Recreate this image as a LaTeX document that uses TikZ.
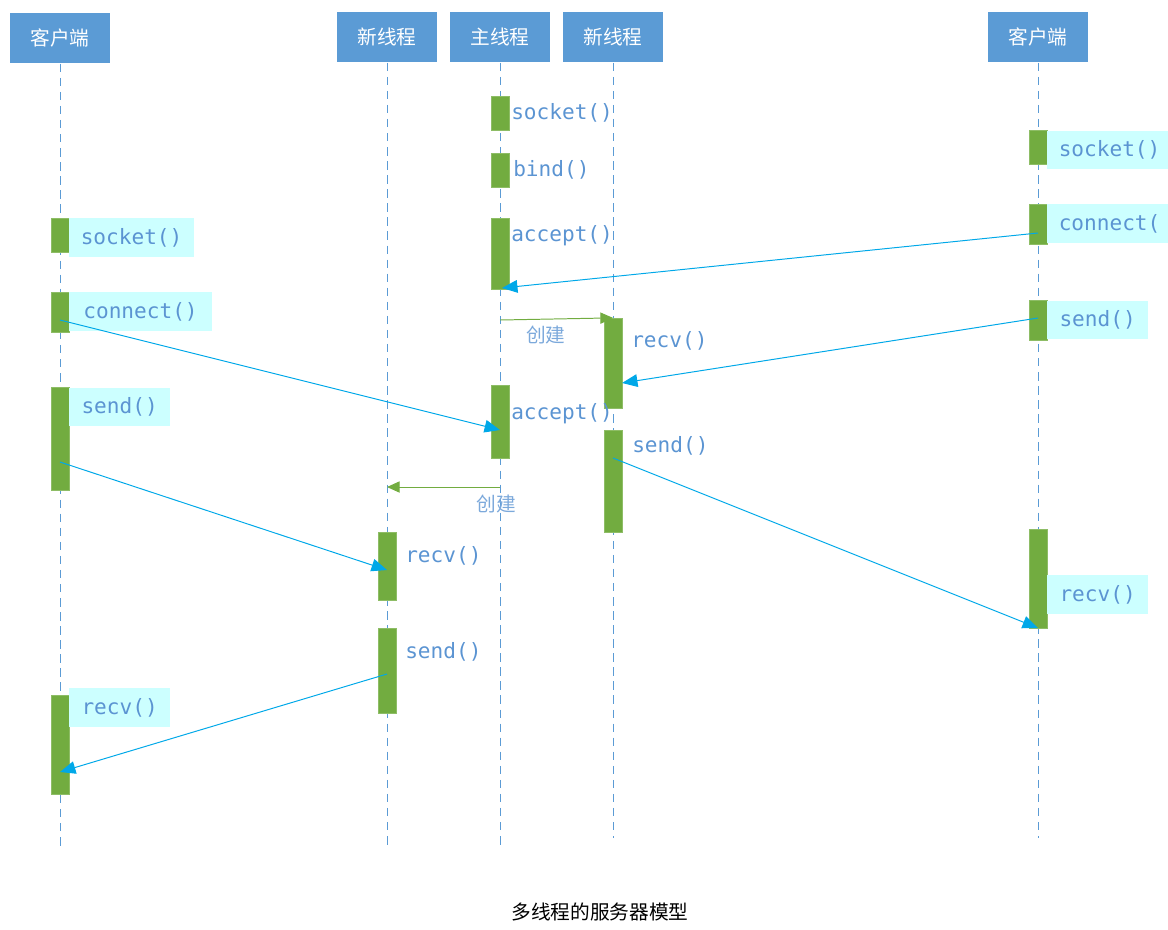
\documentclass[tikz,border=0pt]{standalone}
\usepackage{fontspec}
\setmainfont{DejaVu Sans Mono}
\newfontfamily\cjk{Noto Sans CJK SC}
\usetikzlibrary{positioning, arrows.meta}
\definecolor{headblue}{HTML}{5B9BD5}
\definecolor{bargreen}{HTML}{72AC40}
\definecolor{lblbg}{HTML}{CCFFFF}
\definecolor{lbltext}{HTML}{5B94D2}
\definecolor{msgblue}{HTML}{00A8E8}
\def\px{0.7087pt}
\begin{document}
\begin{tikzpicture}[x=0.025cm, y=-0.025cm,
	head/.style={rectangle, fill=headblue, text=white, font=\cjk\fontsize{14}{14}\selectfont, minimum width=100*\px, minimum height=51*\px, inner sep=0pt},
	life/.style={headblue, dashed, dash pattern=on 6pt off 4pt, line width=0.6pt},
	bar/.style={rectangle, fill=bargreen, draw=bargreen!80!white, minimum width=18*\px, inner sep=0pt},
	call/.style={font=\fontsize{15}{15}\selectfont, text=lbltext, anchor=west, inner sep=0pt},
	callbg/.style={call, fill=lblbg, minimum height=39*\px, inner xsep=10*\px},
	msg/.style={-{Triangle[length=11pt, width=9pt]}, msgblue, line width=0.7pt},
	spawn/.style={-{Triangle[length=9pt, width=8pt]}, bargreen, line width=0.7pt},
	spawnlbl/.style={font=\cjk\fontsize{14}{14}\selectfont, text=lbltext!80!white}
]
\useasboundingbox (0,0) rectangle (1168,929);

% heads and lifelines
\node[head] (client) at (60,38) {客户端};
\node[head] (threadA) at (387,37) {新线程};
\node[head] (mainth) at (500,37) {主线程};
\node[head] (threadB) at (613,37) {新线程};
\node[head] (client2) at (1038,37) {客户端};
\coordinate (clientEnd) at (60,850);
\coordinate (threadAEnd) at (387,850);
\coordinate (mainthEnd) at (500,845);
\coordinate (threadBEnd) at (613,838);
\coordinate (client2End) at (1038,838);
\foreach \i in {client, threadA, mainth, threadB, client2}
	\draw[life] (\i.south) -- (\i End);

% activation bars
\node[bar, minimum height=34*\px] (mSock) at (500,113) {};
\node[bar, minimum height=34*\px] (mBind) at (500,170) {};
\node[bar, minimum height=71*\px] (mAcc) at (500,253.5) {};
\node[bar, minimum height=73*\px] (mAcc2) at (500,421.5) {};
\node[bar, minimum height=90*\px] (bRecv) at (613,363) {};
\node[bar, minimum height=102*\px] (bSend) at (613,481) {};
\node[bar, minimum height=68*\px] (aRecv) at (387,566) {};
\node[bar, minimum height=85*\px] (aSend) at (387,670.5) {};
\node[bar, minimum height=34*\px] (cSock) at (60,235) {};
\node[bar, minimum height=40*\px] (cCon) at (60,312) {};
\node[bar, minimum height=103*\px] (cSend) at (60,438.5) {};
\node[bar, minimum height=99*\px] (cRecv) at (60,744.5) {};
\node[bar, minimum height=34*\px] (dSock) at (1038,147) {};
\node[bar, minimum height=40*\px] (dCon) at (1038,224) {};
\node[bar, minimum height=40*\px] (dSend) at (1038,320) {};
\node[bar, minimum height=99*\px] (dRecv) at (1038,578.5) {};

% call labels
\node[call] (lmSock) at (511,113) {socket()};
\node[call] (lmBind) at (513,170) {bind()};
\node[call] (lmAcc) at (511,236) {accept()};
\node[call] (lmAcc2) at (511,414) {accept()};
\node[call] (lbRecv) at (631,341) {recv()};
\node[call] (lbSend) at (632,446) {send()};
\node[call] (laRecv) at (405,556) {recv()};
\node[call] (laSend) at (405,652) {send()};
\node[callbg, minimum width=125*\px] (lcSock) at (69,237.5) {socket()};
\node[callbg, minimum width=143*\px] (lcCon) at (69,311.5) {connect()};
\node[callbg, minimum width=101*\px] (lcSend) at (69,407) {send()};
\node[callbg, minimum width=101*\px] (lcRecv) at (69,707.5) {recv()};
\node[callbg, minimum width=125*\px] (ldSock) at (1047,150) {socket()};
\node[callbg, minimum width=125*\px] (ldCon) at (1047,223.5) {connect(};
\node[callbg, minimum width=101*\px] (ldSend) at (1047,320) {send()};
\node[callbg, minimum width=101*\px] (ldRecv) at (1047,594.5) {recv()};

% message ends
\coordinate (dConOut) at (1038,233);
\coordinate (mAccIn) at (502,288);
\coordinate (cConOut) at (60,320);
\coordinate (mAcc2In) at (500,430);
\coordinate (dSendOut) at (1038,318);
\coordinate (bRecvIn) at (622,383);
\coordinate (cSendOut) at (60,462);
\coordinate (aRecvIn) at (387,570);
\coordinate (bSendOut) at (613,458);
\coordinate (dRecvIn) at (1038,628);
\coordinate (aSendOut) at (387,674);
\coordinate (cRecvIn) at (60,772);

\foreach \i/\j in {dConOut/mAccIn, cConOut/mAcc2In, dSendOut/bRecvIn, cSendOut/aRecvIn, bSendOut/dRecvIn, aSendOut/cRecvIn}
	\draw[msg] (\i) -- (\j);

% thread creation
\coordinate (spawnB) at (500,320);
\coordinate (spawnA) at (500,487);
\draw[spawn] (spawnB) -- (bRecv.north -| threadB) node[spawnlbl, below left=2pt and 30pt] (lspB) {创建};
\draw[spawn] (spawnA) -- (spawnA -| threadA) node[spawnlbl, below right=2pt and 60pt] (lspA) {创建};

\node[font=\cjk\fontsize{14}{14}\selectfont] (caption) at (600,912) {多线程的服务器模型};
\end{tikzpicture}
\end{document}
